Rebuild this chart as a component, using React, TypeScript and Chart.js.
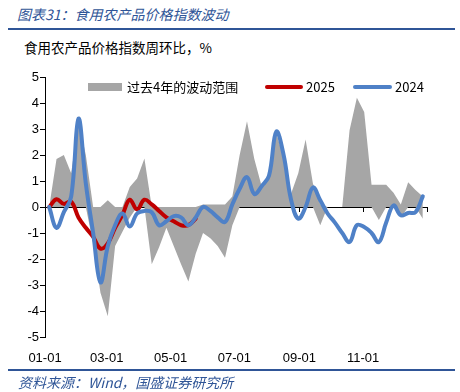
import React, { useEffect, useRef } from 'react';
import { Chart, registerables } from 'chart.js';

Chart.register(...registerables);

// x positions: day-of-year of each weekly observation
const weekDays: number[] = Array.from({ length: 52 }, (_, i) => 4 + 7 * i);

// axis ticks
const tickDays = [0, 59, 120, 181, 243, 304, 365];
const tickLabels = ['01-01', '03-01', '05-01', '07-01', '09-01', '11-01', ''];

// past 4 years range (upper / lower)
const bandUpper = [
  0, 1.85, 2.0, 1.3, 3.3, 2.0, 0, 0, 0.26, 0,
  0, 0.77, 1.1, 1.87, 0, 0, 0, 0, 0, 0,
  0, 0.1, 0.1, 0.1, 0.1, 0.4, 2.0, 3.3, 1.85, 0.8,
  1.2, 2.85, 1.9, 0.5, 1.3, 2.6, 0.9, 0.1, 0, 0,
  0, 2.95, 4.2, 3.65, 0.86, 0.86, 0.86, 0.55, 0.1, 0.95,
  0.65, 0.4,
];
const bandLower = [
  0, 0, 0, 0, 0, 0, -1.4, -3.3, -4.2, -1.5,
  -0.95, -0.4, 0, 0, -2.2, -1.55, -0.8, -1.5, -2.2, -2.87,
  -1.8, -1.0, -1.2, -1.5, -1.95, -0.7, 0, 0, 0, 0,
  0, 0, 0, 0, 0, 0, 0, -0.7, 0, 0,
  0, 0, 0, 0, 0, -0.5, 0, 0, -0.4, 0,
  0, -0.45,
];

const series2024 = [
  0, -0.8, -0.2, 0.4, 3.4, 0.9, -1.0, -2.9, -1.5, -0.7,
  -0.25, -0.75, -0.25, -0.15, -0.2, -0.7, -0.55, -0.35, -0.4, -0.7,
  -0.4, 0.0, -0.15, -0.4, -0.58, 0.1, 0.7, 1.15, 0.5, 0.8,
  1.2, 2.9, 2.0, 0.3, -0.45, 0.0, 0.75, 0.26, -0.25, -0.6,
  -1.0, -1.35, -0.7, -0.77, -1.0, -1.35, -0.6, 0.06, -0.32, -0.23,
  -0.2, 0.41,
];

const series2025 = [
  0, 0.3, 0.12, 0.2, -0.4, -0.8, -1.15, -1.6, -1.4, -0.8,
  -0.3, 0.28, -0.1, 0.28, 0.1, -0.15, -0.4, -0.55, -0.7, -0.7,
  -0.45,
];

const BLUE = '#4F81C7';
const RED = '#C00000';
const GRAY = '#A6A6A6';
const TITLE_BLUE = '#2F5597';

const toPts = (vals: number[]) => vals.map((v, i) => ({ x: weekDays[i], y: v }));

const axisFont = { family: "'Liberation Sans', Arial, sans-serif", size: 13 };

export default function App() {
  const ref = useRef<HTMLCanvasElement | null>(null);

  useEffect(() => {
    if (!ref.current) return;
    const setTicks = (scale: any) => {
      scale.ticks = tickDays.map((v) => ({ value: v }));
    };
    const chart = new Chart(ref.current, {
      type: 'line',
      data: {
        datasets: [
          {
            label: '2024',
            data: toPts(series2024),
            borderColor: BLUE,
            borderWidth: 4,
            tension: 0.4,
            pointRadius: 0,
            borderCapStyle: 'round',
            borderJoinStyle: 'round',
            fill: false,
          },
          {
            label: '2025',
            data: toPts(series2025),
            borderColor: RED,
            borderWidth: 4,
            tension: 0.4,
            pointRadius: 0,
            borderCapStyle: 'round',
            borderJoinStyle: 'round',
            fill: false,
          },
          {
            label: '过去4年的波动范围',
            data: toPts(bandUpper),
            borderWidth: 0,
            borderColor: 'rgba(0,0,0,0)',
            backgroundColor: GRAY,
            pointRadius: 0,
            tension: 0,
            fill: '+1',
          },
          {
            label: 'lower',
            data: toPts(bandLower),
            borderWidth: 0,
            borderColor: 'rgba(0,0,0,0)',
            pointRadius: 0,
            tension: 0,
            fill: false,
          },
        ],
      },
      options: {
        animation: false,
        responsive: false,
        layout: { padding: { left: 0, right: 33, top: 77, bottom: 0 } },
        plugins: { legend: { display: false }, tooltip: { enabled: false } },
        scales: {
          x: {
            type: 'linear',
            min: 0,
            max: 365,
            position: 'bottom',
            afterBuildTicks: setTicks,
            afterFit: (s: any) => {
              s.height = 55;
            },
            grid: { display: false },
            border: { display: false },
            ticks: {
              padding: 6,
              font: axisFont,
              color: '#000',
              maxRotation: 0,
              autoSkip: false,
              callback: (v: any) => {
                const idx = tickDays.indexOf(Number(v));
                return idx >= 0 ? tickLabels[idx] : '';
              },
            },
          },
          x2: {
            type: 'linear',
            axis: 'x',
            min: 0,
            max: 365,
            position: { y: 0 },
            afterBuildTicks: setTicks,
            grid: { drawOnChartArea: false, drawTicks: true, tickLength: 4, color: '#000' },
            border: { display: true, color: '#000', width: 1 },
            ticks: { display: false },
          },
          y: {
            type: 'linear',
            min: -5,
            max: 5,
            afterFit: (s: any) => {
              s.width = 45;
            },
            ticks: { stepSize: 1, font: axisFont, color: '#000', padding: 1 },
            grid: { drawOnChartArea: false, drawTicks: true, tickLength: 5, color: '#000' },
            border: { display: true, color: '#000', width: 1 },
          },
        },
      } as any,
    });
    return () => chart.destroy();
  }, []);

  const cjk = "'Noto Sans CJK SC', sans-serif";

  return (
    <div
      style={{
        position: 'fixed',
        left: 0,
        top: 0,
        width: 460,
        height: 392,
        background: '#fff',
        overflow: 'hidden',
      }}
    >
      <div
        style={{
          position: 'absolute',
          left: 17,
          top: 7,
          fontFamily: cjk,
          fontStyle: 'italic',
          fontSize: 14,
          lineHeight: '14px',
          color: TITLE_BLUE,
          whiteSpace: 'nowrap',
        }}
      >
        图表31：食用农产品价格指数波动
      </div>
      <div style={{ position: 'absolute', left: 8, top: 28, width: 447, height: 2, background: TITLE_BLUE }} />
      <div
        style={{
          position: 'absolute',
          left: 24,
          top: 40,
          fontFamily: cjk,
          fontSize: 13.5,
          lineHeight: '14px',
          color: '#000',
          whiteSpace: 'nowrap',
        }}
      >
        食用农产品价格指数周环比，%
      </div>
      <canvas
        ref={ref}
        width={460}
        height={392}
        style={{ position: 'absolute', left: 0, top: 0, width: 460, height: 392 }}
      />
      {/* legend */}
      <div style={{ position: 'absolute', left: 88, top: 83, width: 34, height: 8, background: GRAY }} />
      <div
        style={{
          position: 'absolute',
          left: 127,
          top: 80,
          fontFamily: cjk,
          fontSize: 13,
          lineHeight: '14px',
          color: '#000',
          whiteSpace: 'nowrap',
        }}
      >
        过去4年的波动范围
      </div>
      <div style={{ position: 'absolute', left: 265, top: 85, width: 38, height: 4, borderRadius: 2, background: RED }} />
      <div
        style={{
          position: 'absolute',
          left: 306,
          top: 80,
          fontFamily: cjk,
          fontSize: 13,
          lineHeight: '14px',
          color: '#000',
        }}
      >
        2025
      </div>
      <div style={{ position: 'absolute', left: 353, top: 85, width: 39, height: 4, borderRadius: 2, background: BLUE }} />
      <div
        style={{
          position: 'absolute',
          left: 395,
          top: 80,
          fontFamily: cjk,
          fontSize: 13,
          lineHeight: '14px',
          color: '#000',
        }}
      >
        2024
      </div>
      {/* footer */}
      <div style={{ position: 'absolute', left: 8, top: 369, width: 447, height: 2, background: TITLE_BLUE }} />
      <div
        style={{
          position: 'absolute',
          left: 18,
          top: 375,
          fontFamily: cjk,
          fontStyle: 'italic',
          fontSize: 14,
          lineHeight: '14px',
          color: TITLE_BLUE,
          whiteSpace: 'nowrap',
        }}
      >
        资料来源：Wind，国盛证券研究所
      </div>
    </div>
  );
}
